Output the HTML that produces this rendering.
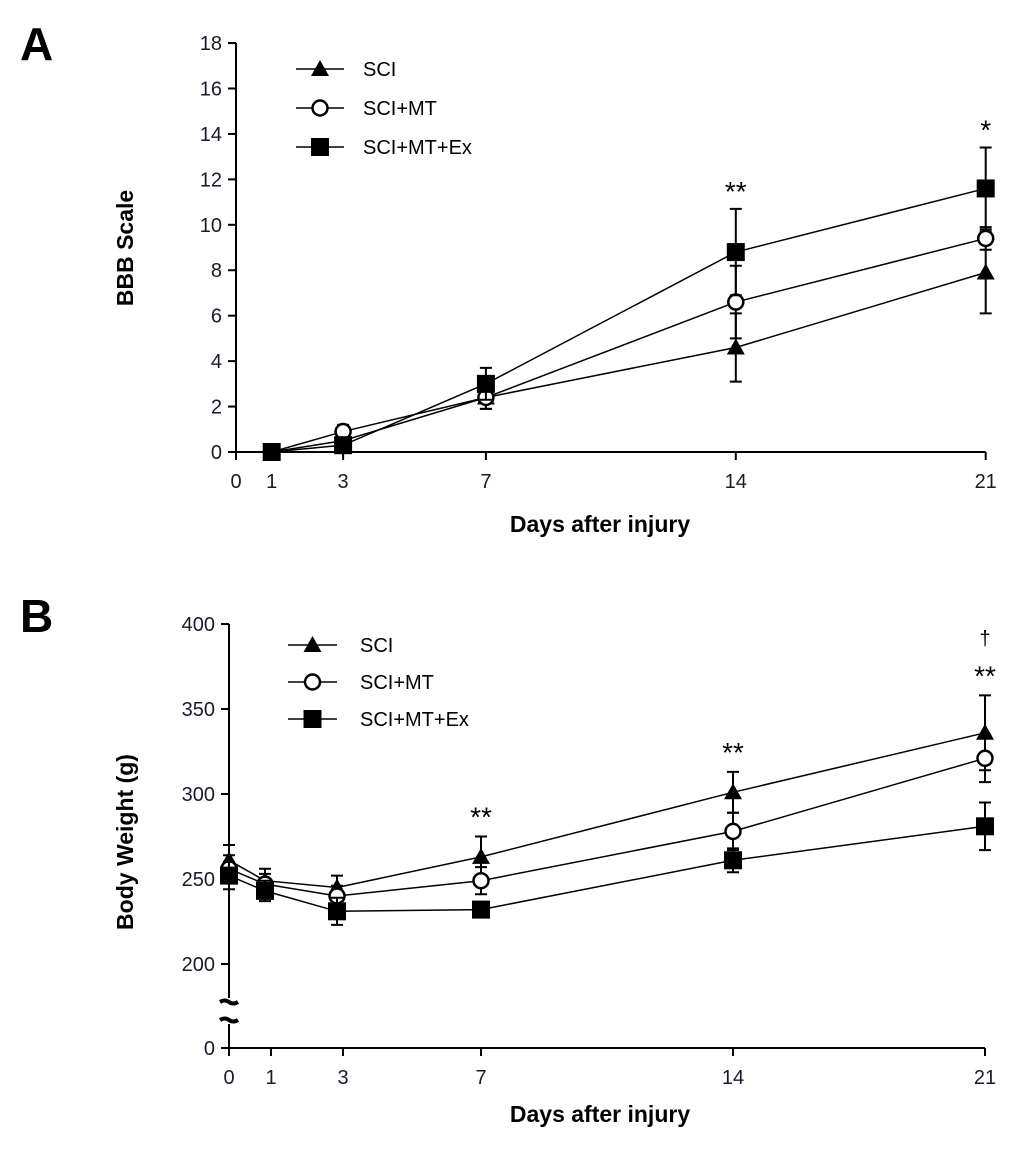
<!DOCTYPE html>
<html><head><meta charset="utf-8"><style>
html,body{margin:0;padding:0;background:#fff;}
svg{display:block;font-family:"Liberation Sans",Arial,sans-serif;}
</style></head><body>
<svg id="chart" width="1024" height="1149" viewBox="0 0 1024 1149">
<text x="20" y="60" font-size="46" font-weight="bold">A</text>
<text x="20" y="632" font-size="46" font-weight="bold">B</text>
<g id="pa"></g>
<g id="pb"></g>
</svg>
<script>
// Panel A data
const daysA = [1, 3, 7, 14, 21];
const aSCI = [0, 0.5, 2.4, 4.6, 7.9];
const aSCIerr = [0, 0.3, 0.5, 1.5, 1.8];
const aMT = [0, 0.9, 2.4, 6.6, 9.4];
const aMTerr = [0, 0.3, 0.5, 1.6, 0.5];
const aEx = [0, 0.3, 3.0, 8.8, 11.6];
const aExerr = [0, 0.3, 0.7, 1.9, 1.8];
const aXTicks = [0, 1, 3, 7, 14, 21];
const aYTicks = [0, 2, 4, 6, 8, 10, 12, 14, 16, 18];
const aSig = [{d: 14, v: 10.7, t: "**"}, {d: 21, v: 13.4, t: "*"}];
// Panel B data
const daysB = [0, 1, 3, 7, 14, 21];
const bSCI = [261, 249, 245, 263, 301, 336];
const bSCIerr = [9, 7, 7, 12, 12, 22];
const bMT = [256, 247, 240, 249, 278, 321];
const bMTerr = [8, 6, 6, 8, 11, 14];
const bEx = [252, 243, 231, 232, 261, 281];
const bExerr = [8, 6, 8, 4, 7, 14];
const bXTicks = [0, 1, 3, 7, 14, 21];
const bYTicks = [200, 250, 300, 350, 400];
const bSig = [{d: 7, v: 275, t: "**"}, {d: 14, v: 313, t: "**"}, {d: 21, v: 358, t: "**"}];

const NS = "http://www.w3.org/2000/svg";
function mk(parent, tag, attrs, text) {
  const e = document.createElementNS(NS, tag);
  for (const k in attrs) e.setAttribute(k, attrs[k]);
  if (text !== undefined) e.textContent = text;
  parent.appendChild(e);
  return e;
}
function marker(g, type, x, y, name) {
  let e;
  if (type === "tri") e = mk(g, "polygon", {points: `${x},${y-9} ${x-9},${y+7} ${x+9},${y+7}`, fill: "#000"});
  else if (type === "circ") e = mk(g, "circle", {cx: x, cy: y, r: 7.5, fill: "#fff", stroke: "#000", "stroke-width": 2.5});
  else e = mk(g, "rect", {x: x-9, y: y-9, width: 18, height: 18, fill: "#000"});
  
  
}
function drawSeries(g, days, vals, errs, sx, sy, type, name) {
  const pts = days.map((d, i) => sx(d) + "," + sy(vals[i])).join(" ");
  const l = mk(g, "polyline", {points: pts, fill: "none", stroke: "#000", "stroke-width": 1.5});
  
  
  days.forEach((d, i) => {
    if (errs[i] > 0) {
      const x = sx(d), y1 = sy(vals[i] - errs[i]), y2 = sy(vals[i] + errs[i]);
      const eb = mk(g, "path", {d: `M${x},${y1}V${y2}M${x-6},${y1}H${x+6}M${x-6},${y2}H${x+6}`, stroke: "#000", "stroke-width": 2, fill: "none"});
      
      
    }
  });
  days.forEach((d, i) => marker(g, type, sx(d), sy(vals[i]), name + '-point'));
}
function legend(g, x0, x1, tx, ys, fs) {
  const items = [["tri", "SCI"], ["circ", "SCI+MT"], ["sq", "SCI+MT+Ex"]];
  items.forEach((it, i) => {
    const y = ys[i];
    const ln = mk(g, "line", {x1: x0, x2: x1, y1: y, y2: y, stroke: "#000", "stroke-width": 1.5});
    
    
    marker(g, it[0], (x0 + x1) / 2, y, 'legend-marker');
    const t = mk(g, "text", {x: tx, y: y + 7, "font-size": fs}, it[1]);
    
    
  });
}

// Panel A
(function(){
  const g = document.getElementById("pa");
  const x0 = 236, xs = 35.7;
  const sx = d => x0 + xs * d;
  const sy = v => 452 - v * 22.72;
  const ax = mk(g, "path", {d: `M${x0},43V452H${sx(21)}`, stroke: "#000", "stroke-width": 2, fill: "none"});
  
  
  aYTicks.forEach(v => {
    mk(g, "line", {x1: x0 - 8, x2: x0, y1: sy(v), y2: sy(v), stroke: "#000", "stroke-width": 2});
    const t = mk(g, "text", {x: x0 - 14, y: sy(v) + 7, "font-size": 20, "text-anchor": "end", fill: "#1a1a2e"}, v);
    
    
  });
  aXTicks.forEach(d => {
    mk(g, "line", {x1: sx(d), x2: sx(d), y1: 452, y2: 460, stroke: "#000", "stroke-width": 2});
    const t = mk(g, "text", {x: sx(d), y: 488, "font-size": 20, "text-anchor": "middle", fill: "#1a1a2e"}, d);
    
    
  });
  drawSeries(g, daysA, aSCI, aSCIerr, sx, sy, "tri", "sci");
  drawSeries(g, daysA, aMT, aMTerr, sx, sy, "circ", "sci-mt");
  drawSeries(g, daysA, aEx, aExerr, sx, sy, "sq", "sci-mt-ex");
  aSig.forEach(s => {
    const t = mk(g, "text", {x: sx(s.d), y: sy(s.v) - 8, "font-size": 28, "text-anchor": "middle"}, s.t);
    
    
  });
  legend(g, 296, 344, 363, [69, 108, 147], 20);
  const yt = mk(g, "text", {x: 0, y: 0, "font-size": 23, "font-weight": "bold", "text-anchor": "middle", transform: "translate(133,248) rotate(-90)"}, "BBB Scale");
  
  
  const xt = mk(g, "text", {x: 600, y: 532, "font-size": 23, "font-weight": "bold", "text-anchor": "middle"}, "Days after injury");
  
  
})();

// Panel B
(function(){
  const g = document.getElementById("pb");
  const x0 = 229, xs = 36.0;
  const sx = d => x0 + xs * d;
  const sy = v => 964 - (v - 200) * 1.7;
  const ax = mk(g, "path", {d: `M${x0},624V998M${x0},1024V1048H${sx(21)}`, stroke: "#000", "stroke-width": 2, fill: "none"});
  
  
  const br = mk(g, "path", {d: `M${x0-9},1002q5,-3 9,0t9,0M${x0-9},1020q5,-3 9,0t9,0`, stroke: "#000", "stroke-width": 4, fill: "none"});
  
  
  bYTicks.concat([0]).forEach(v => {
    const y = v === 0 ? 1048 : sy(v);
    mk(g, "line", {x1: x0 - 8, x2: x0, y1: y, y2: y, stroke: "#000", "stroke-width": 2});
    const t = mk(g, "text", {x: x0 - 14, y: y + 7, "font-size": 20, "text-anchor": "end", fill: "#1a1a2e"}, v);
    
    
  });
  bXTicks.forEach(d => {
    const x = d === 0 ? x0 : sx(d) + (d <= 3 ? 6 : 0);
    mk(g, "line", {x1: x, x2: x, y1: 1048, y2: 1056, stroke: "#000", "stroke-width": 2});
    const t = mk(g, "text", {x: x, y: 1084, "font-size": 20, "text-anchor": "middle", fill: "#1a1a2e"}, d);
    
    
  });
  drawSeries(g, daysB, bSCI, bSCIerr, sx, sy, "tri", "sci");
  drawSeries(g, daysB, bMT, bMTerr, sx, sy, "circ", "sci-mt");
  drawSeries(g, daysB, bEx, bExerr, sx, sy, "sq", "sci-mt-ex");
  bSig.forEach(s => {
    const t = mk(g, "text", {x: sx(s.d), y: sy(s.v) - 10, "font-size": 28, "text-anchor": "middle"}, s.t);
    
    
  });
  const dg = mk(g, "text", {x: sx(21), y: 645, "font-size": 20, "text-anchor": "middle"}, "†");
  
  
  legend(g, 288, 337, 360, [645, 682, 719], 20);
  const yt = mk(g, "text", {x: 0, y: 0, "font-size": 23, "font-weight": "bold", "text-anchor": "middle", transform: "translate(133,842) rotate(-90)"}, "Body Weight (g)");
  
  
  const xt = mk(g, "text", {x: 600, y: 1122, "font-size": 23, "font-weight": "bold", "text-anchor": "middle"}, "Days after injury");
  
  
})();
</script>
</body></html>
